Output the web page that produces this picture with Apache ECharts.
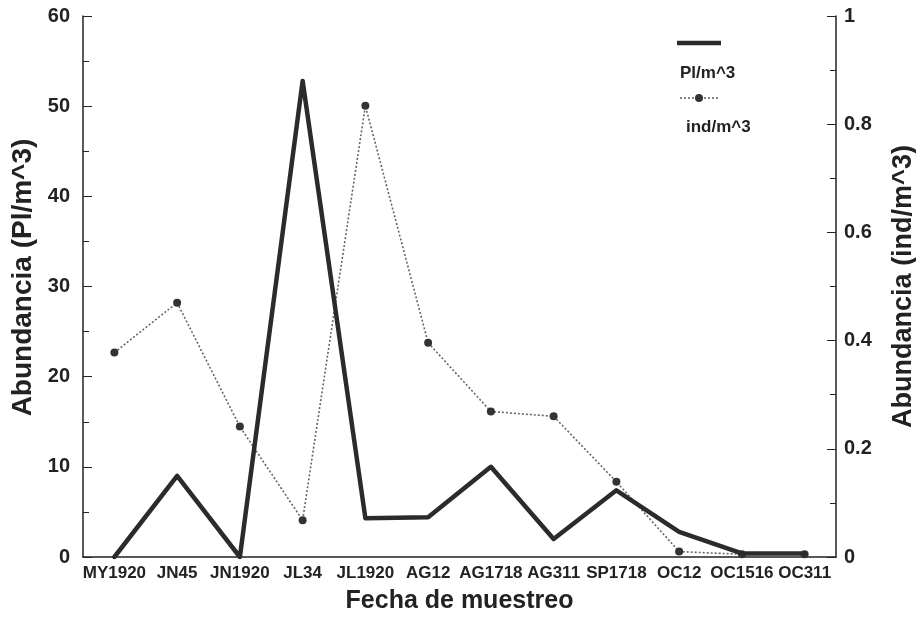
<!DOCTYPE html>
<html>
<head>
<meta charset="utf-8">
<script src="https://cdn.jsdelivr.net/npm/echarts@6/dist/echarts.min.js"></script>
<style>
html,body{margin:0;padding:0;background:#fff;}
#chart{width:916px;height:618px;}
</style>
</head>
<body>
<div id="chart"></div>
<script>
var categories = ['MY1920','JN45','JN1920','JL34','JL1920','AG12','AG1718','AG311','SP1718','OC12','OC1516','OC311'];
var plValues = [0, 9.0, 0, 52.8, 4.3, 4.4, 10.0, 2.0, 7.4, 2.8, 0.4, 0.4];
var indValues = [0.378, 0.47, 0.241, 0.068, 0.834, 0.396, 0.269, 0.26, 0.139, 0.01, 0.005, 0.005];
var leftTicks = [0, 10, 20, 30, 40, 50, 60];
var rightTicks = [0, 0.2, 0.4, 0.6, 0.8, 1];
var seriesNames = ['Pl/m^3', 'ind/m^3'];

var FONT = '"Liberation Sans", Arial, Helvetica, sans-serif';
var chart = echarts.init(document.getElementById('chart'));
var axisColor = '#222';

chart.setOption({
  backgroundColor: '#fff',
  animation: false,
  textStyle: { fontFamily: FONT, fontWeight: 'bold', color: '#222' },
  grid: { left: 83, right: 80, top: 16, bottom: 61, containLabel: false, outerBoundsMode: 'none' },
  xAxis: {
    type: 'category',
    data: categories,
    boundaryGap: true,
    name: 'Fecha de muestreo',
    nameLocation: 'middle',
    nameGap: 32,
    nameTextStyle: { fontSize: 25, fontWeight: 'bold', fontFamily: FONT, color: '#222' },
    axisLine: { lineStyle: { color: axisColor, width: 1.5 } },
    axisTick: { inside: true, alignWithLabel: true, length: 9, lineStyle: { color: axisColor, width: 1 } },
    axisLabel: { fontSize: 17, fontWeight: 'bold', fontFamily: FONT, color: '#222', margin: 8, interval: 0 },
    splitLine: { show: false }
  },
  yAxis: [
    {
      type: 'value',
      min: leftTicks[0],
      max: leftTicks[leftTicks.length - 1],
      interval: leftTicks[1] - leftTicks[0],
      position: 'left',
      name: 'Abundancia (Pl/m^3)',
      nameLocation: 'middle',
      nameGap: 45,
      nameTextStyle: { fontSize: 28, fontWeight: 'bold', fontFamily: FONT, color: '#222', padding: [0, 0, 0, 18] },
      axisLine: { show: true, lineStyle: { color: axisColor, width: 1.5 } },
      axisTick: { show: true, inside: true, length: 9, lineStyle: { color: axisColor } },
      minorTick: { show: true, splitNumber: 2, length: 6, lineStyle: { color: axisColor } },
      axisLabel: { fontSize: 20, fontWeight: 'bold', fontFamily: FONT, color: '#222', margin: 13 },
      splitLine: { show: false }
    },
    {
      type: 'value',
      min: rightTicks[0],
      max: rightTicks[rightTicks.length - 1],
      interval: 0.2,
      position: 'right',
      name: 'Abundancia (ind/m^3)',
      nameLocation: 'middle',
      nameGap: 54,
      nameRotate: 90,
      nameTextStyle: { fontSize: 27, fontWeight: 'bold', fontFamily: FONT, color: '#222' },
      axisLine: { show: true, lineStyle: { color: axisColor, width: 1.5 } },
      axisTick: { show: true, inside: true, length: 9, lineStyle: { color: axisColor } },
      minorTick: { show: true, splitNumber: 2, length: 6, lineStyle: { color: axisColor } },
      axisLabel: { fontSize: 20, fontWeight: 'bold', fontFamily: FONT, color: '#222', margin: 8,
        formatter: function (v) { return String(+v.toFixed(1)); } },
      splitLine: { show: false }
    }
  ],
  series: [
    {
      name: seriesNames[0],
      type: 'line',
      yAxisIndex: 0,
      data: plValues,
      symbol: 'none',
      lineStyle: { color: '#2b2b2b', width: 4.5, type: 'solid', join: 'round', cap: 'round' },
      z: 3
    },
    {
      name: seriesNames[1],
      type: 'line',
      yAxisIndex: 1,
      data: indValues,
      symbol: 'circle',
      symbolSize: 8,
      showSymbol: true,
      itemStyle: { color: '#333' },
      lineStyle: { color: '#666', width: 1.6, type: [2, 2] },
      z: 2
    }
  ],
  graphic: [
    { type: 'line', shape: { x1: 677, y1: 43, x2: 721, y2: 43 }, style: { stroke: '#2b2b2b', lineWidth: 4.5 } },
    { type: 'text', left: 680, top: 65, style: { text: seriesNames[0], font: 'bold 17px ' + FONT, fill: '#222' } },
    { type: 'line', shape: { x1: 680, y1: 98, x2: 720, y2: 98 }, style: { stroke: '#666', lineWidth: 1.6, lineDash: [2, 2] } },
    { type: 'circle', shape: { cx: 699, cy: 98, r: 4 }, style: { fill: '#333' } },
    { type: 'text', left: 686, top: 119, style: { text: seriesNames[1], font: 'bold 17px ' + FONT, fill: '#222' } }
  ]
});
</script>
</body>
</html>
